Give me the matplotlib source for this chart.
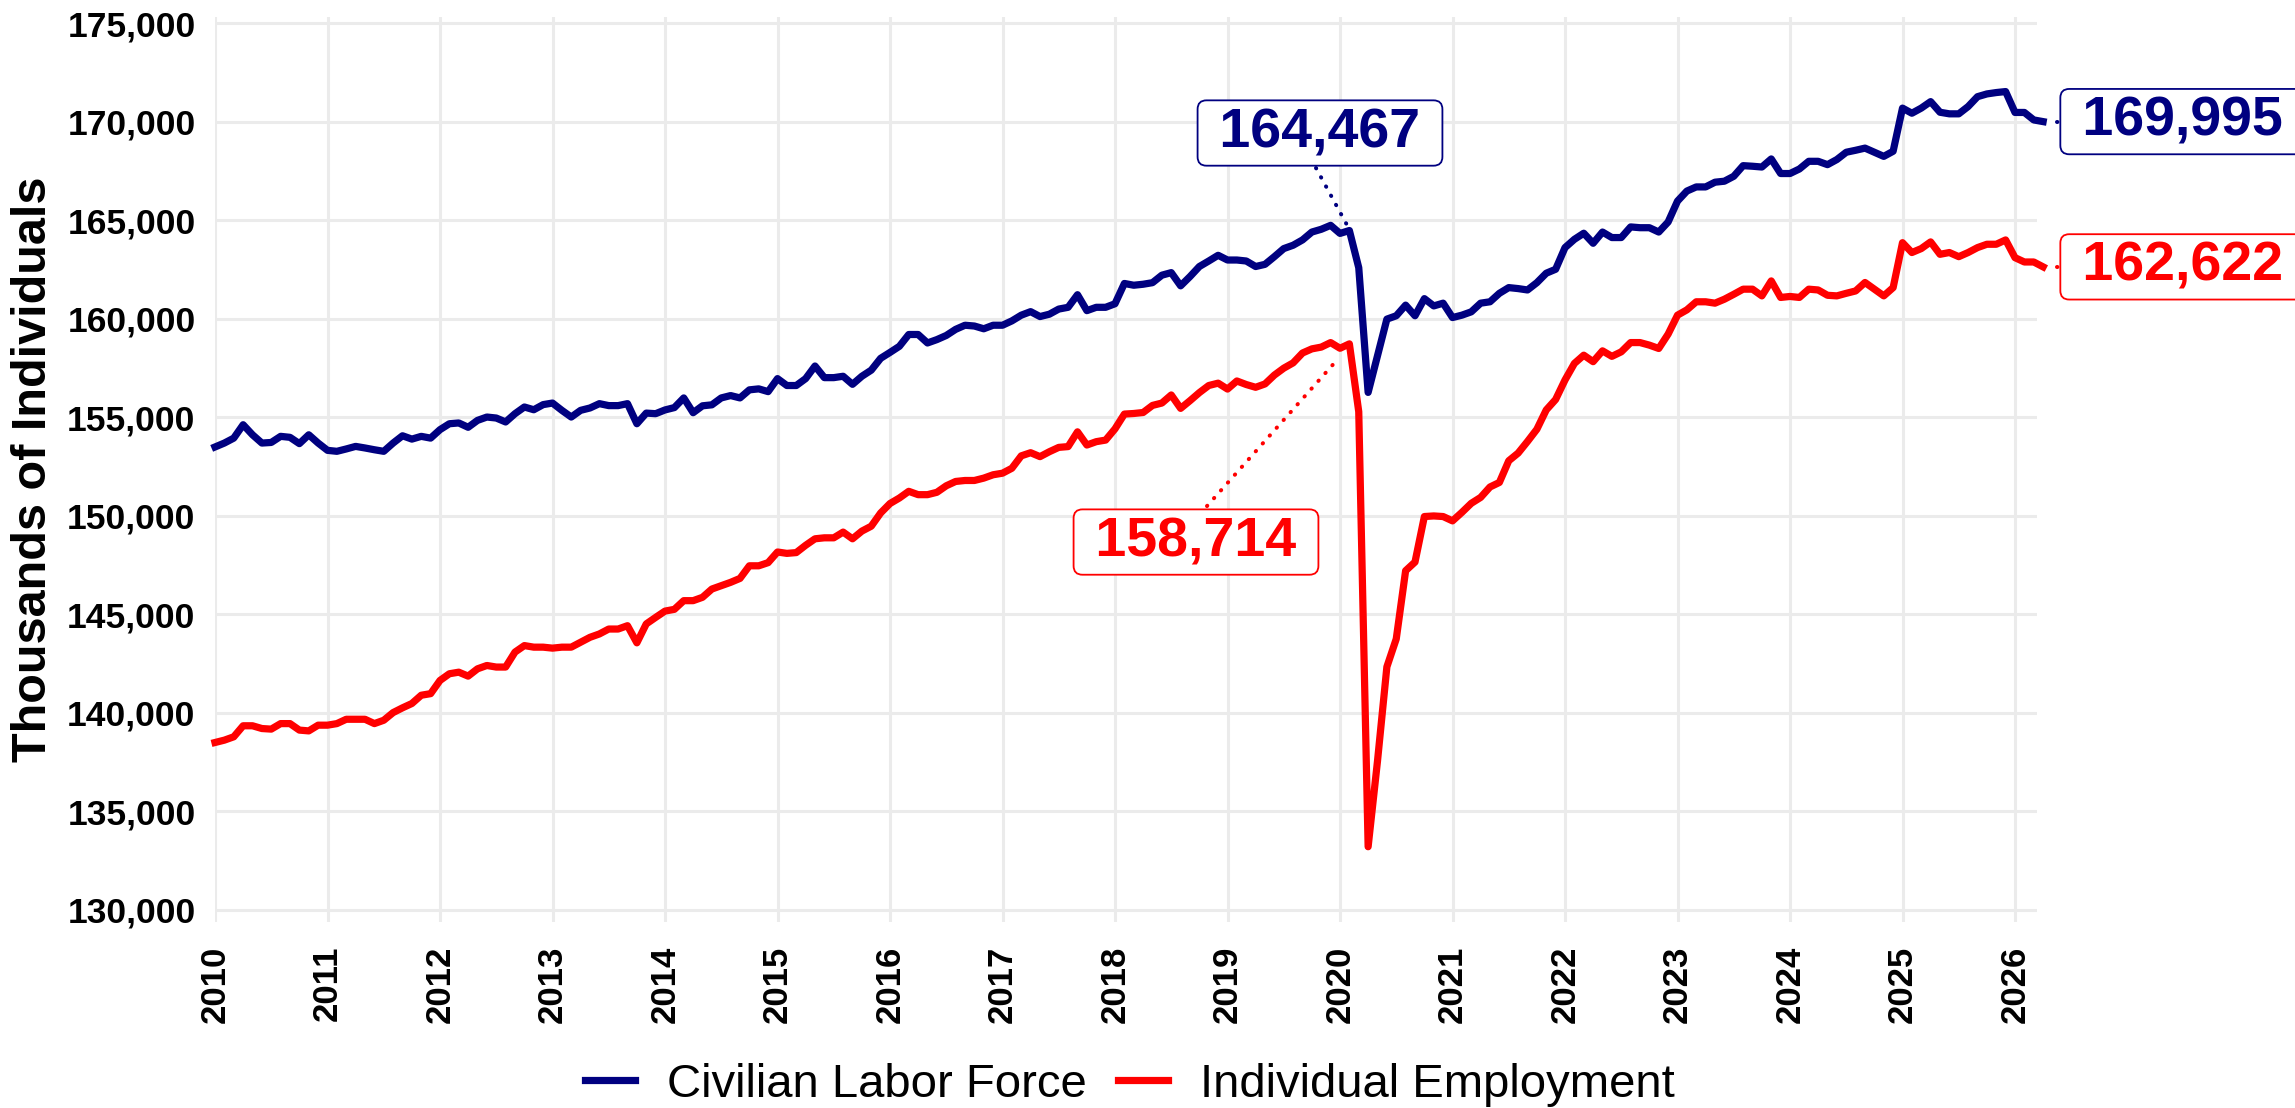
import matplotlib
matplotlib.use("Agg")
import matplotlib.pyplot as plt
import numpy as np
from matplotlib.ticker import FuncFormatter, FixedLocator

plt.rcParams['font.family'] = ['Liberation Sans', 'DejaVu Sans']

start_year = 2010
labor_force = [
    153480, 153680, 153930, 154610, 154100, 153680, 153710, 154020, 153970, 153650, 154100, 153680,
    153310, 153260, 153380, 153510, 153430, 153340, 153260, 153680, 154050, 153880, 154020, 153930,
    154360, 154660, 154700, 154480, 154830, 155000, 154950, 154750, 155170, 155510, 155370, 155630,
    155710, 155340, 155000, 155340, 155460, 155680, 155580, 155580, 155680, 154660, 155200, 155170,
    155360, 155480, 155970, 155220, 155570, 155620, 155970, 156090, 155970, 156380, 156430, 156290,
    156950, 156600, 156600, 156950, 157590, 157000, 157000, 157070, 156660, 157070, 157380, 157980,
    158280, 158590, 159190, 159190, 158760, 158930, 159140, 159450, 159660, 159620, 159480, 159660,
    159660, 159880, 160170, 160350, 160100, 160220, 160480, 160570, 161210, 160400, 160570, 160570,
    160750, 161780, 161690, 161740, 161820, 162200, 162330, 161660, 162130, 162640, 162920, 163210,
    162970, 162970, 162920, 162640, 162750, 163140, 163550, 163720, 163990, 164390, 164530, 164730,
    164320, 164467, 162580, 156250, 158100, 159970, 160140, 160680, 160140, 161010, 160640, 160780,
    160050, 160170, 160340, 160780, 160850, 161280, 161570, 161520, 161450, 161820, 162300, 162500,
    163600, 164020, 164330, 163820, 164390, 164110, 164110, 164650, 164610, 164610, 164390, 164900,
    165960, 166470, 166680, 166680, 166920, 166970, 167220, 167760, 167730, 167690, 168100, 167360,
    167360, 167590, 167980, 167980, 167810, 168070, 168440, 168540, 168650, 168440, 168230, 168490,
    170680, 170420, 170680, 171010, 170470, 170390, 170390, 170760, 171260, 171400, 171470, 171520,
    170460, 170460, 170080, 169995,
]
employment = [
    138480, 138600, 138770, 139330, 139330, 139190, 139160, 139440, 139440, 139110, 139070, 139360,
    139360, 139440, 139660, 139660, 139660, 139440, 139610, 140000, 140240, 140460, 140880, 140960,
    141630, 141970, 142050, 141850, 142220, 142390, 142310, 142310, 143070, 143400, 143320, 143320,
    143270, 143320, 143320, 143570, 143820, 143990, 144240, 144240, 144410, 143540, 144500, 144830,
    145150, 145240, 145680, 145680, 145850, 146270, 146440, 146610, 146810, 147450, 147450, 147610,
    148150, 148080, 148120, 148490, 148820, 148870, 148870, 149160, 148820, 149210, 149460, 150130,
    150610, 150890, 151230, 151060, 151060, 151180, 151510, 151730, 151780, 151780, 151900, 152070,
    152150, 152400, 153030, 153190, 152990, 153240, 153460, 153500, 154250, 153580, 153750, 153830,
    154400, 155150, 155180, 155230, 155590, 155710, 156120, 155440, 155830, 156240, 156600, 156720,
    156420, 156830, 156650, 156510, 156680, 157130, 157480, 157750, 158250, 158460, 158550, 158780,
    158490, 158714, 155270, 133190, 137540, 142320, 143740, 147200, 147640, 149950, 149980, 149950,
    149730, 150160, 150620, 150920, 151450, 151680, 152780, 153170, 153760, 154380, 155360, 155890,
    156880, 157720, 158140, 157810, 158360, 158080, 158310, 158780, 158780, 158650, 158480, 159210,
    160170, 160440, 160850, 160850, 160780, 160980, 161230, 161490, 161490, 161150, 161910, 161070,
    161120, 161070, 161490, 161450, 161180, 161150, 161280, 161400, 161830, 161490, 161150, 161570,
    163850, 163350, 163550, 163890, 163260, 163350, 163140, 163350, 163600, 163770, 163770, 163990,
    163090, 162870, 162870, 162622,
]
series_names = ["Civilian Labor Force", "Individual Employment"]
series_colors = ["#000080", "#FF0000"]
year_ticks = list(range(2010, 2027))
y_ticks = list(range(130000, 175001, 5000))

x = start_year + np.arange(len(labor_force)) / 12.0
lf = np.array(labor_force)
emp = np.array(employment)
peak_idx = 121  # Feb 2020

W, H = 2295, 1108
fig = plt.figure(figsize=(W / 100, H / 100), dpi=100)
ax_left, ax_right, ax_top, ax_bot = 215, 2037, 16.7, 922
ax = fig.add_axes([ax_left / W, (H - ax_bot) / H, (ax_right - ax_left) / W, (ax_bot - ax_top) / H])

ax.set_xlim(2010, 2010 + (ax_right - ax_left) / 112.5)
ax.set_ylim(129370, 175320)

for s in ax.spines.values():
    s.set_visible(False)
ax.xaxis.set_major_locator(FixedLocator(year_ticks))
ax.yaxis.set_major_locator(FixedLocator(y_ticks))
ax.yaxis.set_major_formatter(FuncFormatter(lambda v, p: f"{int(v):,}"))
ax.xaxis.set_major_formatter(FuncFormatter(lambda v, p: f"{int(round(v))}"))
ax.grid(True, color="#EBEBEB", linewidth=2.2)
ax.set_axisbelow(True)
ax.tick_params(axis="both", length=0)
ax.tick_params(axis="y", pad=14, labelsize=25.5)
ax.tick_params(axis="x", pad=17, labelsize=25, labelrotation=90)
for lab in ax.get_xticklabels() + ax.get_yticklabels():
    lab.set_fontweight("bold")

l1, = ax.plot(x, lf, color=series_colors[0], lw=5.2, solid_joinstyle="round", clip_on=False, label=series_names[0])
l2, = ax.plot(x, emp, color=series_colors[1], lw=5.2, solid_joinstyle="round", clip_on=False, label=series_names[1])

dot = (0, (0.1, 2.5))
box_kw = dict(boxstyle="round,pad=0.12,rounding_size=0.16", fc="white", lw=1.3)

def yr(px):
    return 2010 + (px - 215) / 112.5

def val(py):
    return 175000 - (py - 23) * 5000 / 98.5

# Peak labels
ax.text(yr(1320), val(133), f" {lf[peak_idx]:,} ", color=series_colors[0], fontsize=40, fontweight="bold",
        ha="center", va="center", bbox=dict(ec=series_colors[0], **box_kw), zorder=5)
ax.plot([yr(1316), yr(1347)], [val(168), val(225)], color=series_colors[0], lw=2.9, ls=dot,
        dash_capstyle="round", zorder=4)

ax.text(yr(1196), val(542), f" {emp[peak_idx]:,} ", color=series_colors[1], fontsize=40, fontweight="bold",
        ha="center", va="center", bbox=dict(ec=series_colors[1], **box_kw), zorder=5)
ax.plot([yr(1207), yr(1337)], [val(506), val(360)], color=series_colors[1], lw=2.9, ls=dot,
        dash_capstyle="round", zorder=4)

# End labels
for arr, c in [(lf, series_colors[0]), (emp, series_colors[1])]:
    ax.text(yr(2067), arr[-1], f" {arr[-1]:,} ", color=c, fontsize=40, fontweight="bold",
            ha="left", va="center", bbox=dict(ec=c, **box_kw), zorder=5, clip_on=False)
    ax.plot([x[-1] + 0.12, yr(2062)], [arr[-1], arr[-1]], color=c, lw=2.9, ls=dot,
            dash_capstyle="round", clip_on=False)

fig.text(34 / W, (H - 469) / H, "Thousands of Individuals", rotation=90, fontsize=35,
         fontweight="bold", ha="center", va="center")

fig.legend(handles=[l1, l2], labels=series_names, loc="center", bbox_to_anchor=(1130 / W, (H - 1085) / H),
           ncol=2, frameon=False, fontsize=34, handlelength=1.06, handletextpad=0.69,
           columnspacing=0.65, borderpad=0, borderaxespad=0)

fig.savefig("out.png", dpi=100)
